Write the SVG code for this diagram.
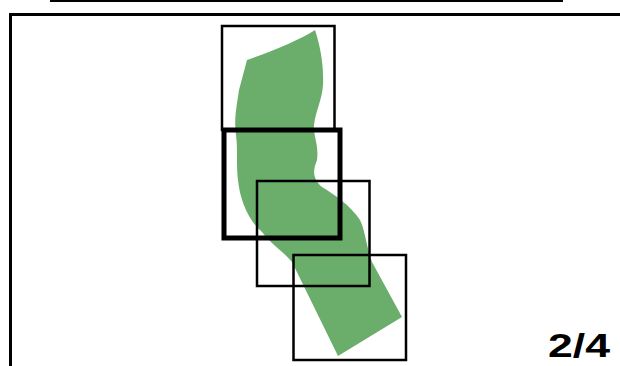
<svg xmlns="http://www.w3.org/2000/svg" width="620" height="366" viewBox="0 0 620 366">
<style>
.box{fill:none;stroke:#000;stroke-width:2.5}
.thick{fill:none;stroke:#000;stroke-width:5}
.lbl{font-family:"Liberation Sans",Arial,sans-serif;font-weight:bold;font-size:34px;fill:#000}
</style>
<rect width="620" height="366" fill="#fff"/>
<line x1="50" y1="1" x2="563" y2="1" stroke="#000" stroke-width="2"/>
<rect x="10.5" y="14.5" width="620" height="400" fill="none" stroke="#000" stroke-width="3"/>
<g id="river">
<path fill="#6bae6b" d="M315,30 C300,40 270,52 247,60 L239,90 C236,110 234,120 236,135 C238,150 236,165 238,180 C240,200 248,220 262,232 C272,245 284,252 292,262 L338,356 L402,317 L372,262 C366,245 365,230 360,220 C350,205 335,195 322,187 C312,178 313,170 317,160 C319,145 313,135 314,125 C316,110 322,100 323,85 C324,65 320,45 315,30 Z"/>
</g>
<g id="frame1"><rect class="box" x="222" y="26" width="112.5" height="104"/></g>
<g id="frame2"><rect class="thick" x="224" y="130" width="116" height="108"/></g>
<g id="frame3"><rect class="box" x="257" y="181" width="112.5" height="105"/></g>
<g id="frame4"><rect class="box" x="293.5" y="255" width="112.5" height="105"/></g>
<g id="label"><text class="lbl" x="548" y="357" textLength="62" lengthAdjust="spacingAndGlyphs">2/4</text></g>
</svg>
